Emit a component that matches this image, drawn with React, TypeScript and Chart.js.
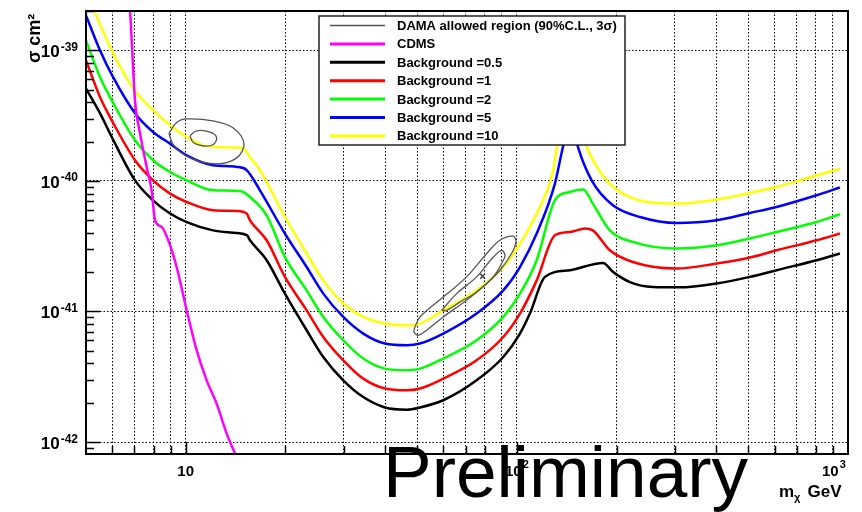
import React, { useEffect, useRef } from 'react';
import { Chart, registerables } from 'chart.js';

Chart.register(...registerables);

const FONT = '"Liberation Sans", Arial, Helvetica, sans-serif';

// ---- Data (WIMP mass in GeV, cross-section in cm^2) ----
const massBg05 = [5.0, 5.51, 5.98, 7.03, 7.97, 8.97, 10.07, 12.09, 14.28, 15.31, 15.64, 17.56, 19.94, 23.19, 26.03, 29.91, 34.38, 39.97, 46.48, 50.99, 59.95, 75.6, 90.99, 102.2, 109.5, 121.6, 144.7, 182.0, 195.1, 219.5, 257.6, 310.8, 401.2, 505.7, 608.6, 803.7, 945];
const sigmaBg05 = [5.1e-40, 3.3e-40, 2.17e-40, 1.01e-40, 7.1e-41, 5.62e-41, 4.84e-41, 4.18e-41, 3.99e-41, 3.83e-41, 3.51e-41, 2.47e-41, 1.37e-41, 7.18e-42, 4.48e-42, 2.97e-42, 2.21e-42, 1.84e-42, 1.77e-42, 1.84e-42, 2.09e-42, 2.97e-42, 4.48e-42, 6.77e-42, 9.64e-42, 1.84e-41, 2.07e-41, 2.35e-41, 2.01e-41, 1.68e-41, 1.54e-41, 1.53e-41, 1.64e-41, 1.84e-41, 2.07e-41, 2.47e-41, 2.78e-41];

const massBg1 = [5.0, 5.51, 5.98, 7.03, 7.97, 8.97, 10.07, 12.09, 14.26, 15.28, 15.64, 17.56, 19.94, 23.19, 26.03, 29.91, 34.38, 39.97, 46.48, 50.99, 59.95, 75.6, 90.99, 102.2, 114.8, 130.3, 144.7, 160.6, 169.6, 190.9, 224.0, 303.8, 401.2, 505.7, 608.6, 803.7, 945];
const sigmaBg1 = [8.38e-40, 4.39e-40, 2.91e-40, 1.44e-40, 1.01e-40, 7.99e-41, 6.89e-41, 5.96e-41, 5.88e-41, 5.62e-41, 4.99e-41, 3.51e-41, 1.84e-41, 1.02e-41, 6.38e-42, 4.23e-42, 3.06e-42, 2.57e-42, 2.49e-42, 2.57e-42, 3.06e-42, 4.23e-42, 6.38e-42, 9.64e-42, 1.73e-41, 3.83e-41, 4.06e-41, 4.31e-41, 4.18e-41, 2.94e-41, 2.39e-41, 2.13e-41, 2.33e-41, 2.59e-41, 2.94e-41, 3.51e-41, 3.95e-41];

const massBg2 = [5.0, 5.51, 5.98, 7.03, 7.97, 8.97, 10.07, 12.09, 14.59, 15.64, 17.56, 19.94, 23.19, 26.03, 29.91, 34.38, 39.97, 46.48, 50.99, 59.95, 75.6, 90.99, 102.2, 114.8, 130.3, 144.7, 158.7, 169.6, 190.9, 224.0, 303.8, 401.2, 505.7, 608.6, 803.7, 945];
const sigmaBg2 = [1.19e-39, 6.25e-40, 4.14e-40, 2.05e-40, 1.44e-40, 1.17e-40, 1.01e-40, 8.47e-41, 8.37e-41, 7.52e-41, 5.45e-41, 2.61e-41, 1.45e-41, 9.08e-42, 6.02e-42, 4.36e-42, 3.65e-42, 3.55e-42, 3.65e-42, 4.36e-42, 6.02e-42, 9.08e-42, 1.37e-41, 2.47e-41, 7.1e-41, 8.22e-41, 8.58e-41, 6.7e-41, 4.18e-41, 3.41e-41, 3.03e-41, 3.21e-41, 3.62e-41, 4.06e-41, 4.84e-41, 5.55e-41];

const massBg5 = [5.0, 5.51, 6.03, 7.03, 7.97, 8.97, 10.07, 12.09, 14.26, 15.28, 16.76, 19.94, 23.19, 26.03, 29.91, 34.38, 39.97, 46.48, 50.99, 59.95, 75.6, 90.99, 102.2, 114.8, 130.3, 137.8, 145.7, 152.9, 168.2, 195.1, 235.4, 303.8, 401.2, 505.7, 608.6, 803.7, 945];
const sigmaBg5 = [1.85e-39, 1.0e-39, 6.25e-40, 3.3e-40, 2.37e-40, 1.93e-40, 1.57e-40, 1.32e-40, 1.28e-40, 1.21e-40, 8.47e-41, 3.95e-41, 2.19e-41, 1.37e-41, 9.08e-42, 6.77e-42, 5.68e-42, 5.51e-42, 5.68e-42, 6.77e-42, 9.64e-42, 1.45e-41, 2.19e-41, 3.95e-41, 9.54e-41, 1.82e-40, 3.0e-40, 1.82e-40, 1.01e-40, 6.5e-41, 5.29e-41, 4.76e-41, 4.99e-41, 5.68e-41, 6.31e-41, 7.76e-41, 8.89e-41];

const massBg10 = [5.14, 5.98, 6.95, 7.98, 8.97, 10.07, 11.3, 12.96, 14.89, 15.64, 16.76, 19.94, 23.19, 26.03, 29.91, 34.38, 39.97, 46.48, 50.99, 59.95, 75.6, 90.99, 102.2, 114.8, 128.8, 132.1, 147.7, 162.8, 186.7, 219.5, 303.8, 401.2, 505.7, 608.6, 706.2, 803.7, 945];
const sigmaBg10 = [2.4e-39, 1.0e-39, 5.09e-40, 3.47e-40, 2.67e-40, 2.17e-40, 1.87e-40, 1.81e-40, 1.78e-40, 1.52e-40, 1.21e-40, 5.29e-41, 2.78e-41, 1.73e-41, 1.15e-41, 9.08e-42, 8.08e-42, 7.84e-42, 8.08e-42, 1.02e-41, 1.45e-41, 2.19e-41, 3.31e-41, 5.62e-41, 1.21e-40, 1.81e-40, 4.14e-40, 1.81e-40, 1.01e-40, 7.52e-41, 6.7e-41, 7.19e-41, 8.08e-41, 8.98e-41, 9.98e-41, 1.1e-40, 1.24e-40];

const massCdms = [6.77, 6.87, 7.03, 7.28, 7.62, 7.89, 8.08, 8.46, 8.86, 9.39, 10.07, 10.79, 11.57, 12.4, 13.3, 14.09, 14.59];
const sigmaCdms = [2.4e-39, 1.19e-39, 4.14e-40, 2.31e-40, 1.28e-40, 8.47e-41, 4.99e-41, 4.44e-41, 3.51e-41, 2.19e-41, 1.02e-41, 5.05e-42, 2.97e-42, 1.97e-42, 1.16e-42, 8.17e-43, 6.5e-43];

const massDamaLowOuter = [8.9, 9.39, 10.07, 12.09, 13.89, 15.0, 14.26, 12.4, 10.3, 9.2, 8.9];
const sigmaDamaLowOuter = [2.31e-40, 2.8e-40, 2.98e-40, 2.88e-40, 2.55e-40, 1.93e-40, 1.5e-40, 1.35e-40, 1.5e-40, 1.87e-40, 2.31e-40];
const massDamaLowInner = [10.3, 10.79, 11.84, 12.4, 12.12, 11.3, 10.54, 10.3];
const sigmaDamaLowInner = [2.22e-40, 2.42e-40, 2.36e-40, 2.15e-40, 1.9e-40, 1.85e-40, 1.97e-40, 2.22e-40];
const massDamaHighOuter = [49.25, 51.0, 59.95, 70.5, 81.1, 88.9, 97.5, 99.4, 96.4, 88.9, 81.1, 70.5, 59.95, 53.4, 50.4, 48.9, 49.25];
const sigmaDamaHighOuter = [7.61e-42, 9.08e-42, 1.29e-41, 1.84e-41, 2.78e-41, 3.51e-41, 3.77e-41, 3.41e-41, 2.78e-41, 2.07e-41, 1.64e-41, 1.22e-41, 9.08e-42, 7.18e-42, 6.57e-42, 6.97e-42, 7.61e-42];
const massDamaHighInner = [59.3, 65.8, 75.6, 84.9, 90.0, 92.1, 91.0, 84.9, 75.6, 67.3, 61.4, 59.3];
const sigmaDamaHighInner = [1.02e-41, 1.37e-41, 1.84e-41, 2.61e-41, 2.94e-41, 2.69e-41, 2.47e-41, 1.84e-41, 1.41e-41, 1.18e-41, 1.02e-41, 1.02e-41];
const massDamaBest = [78.8];
const sigmaDamaBest = [1.86e-41];

const legendLabels = ['DAMA allowed region (90%C.L., 3\u03c3)', 'CDMS', 'Background =0.5', 'Background =1', 'Background =2', 'Background =5', 'Background =10'];
const legendColors = ['#555555', '#ff00ff', '#000000', '#ff0000', '#00ff00', '#0000ff', '#ffff00'];

const xTickValues = [5, 6, 7, 8, 9, 10, 20, 30, 40, 50, 60, 70, 80, 90, 100, 200, 300, 400, 500, 600, 700, 800, 900, 1000];
const xLabelValues = [10, 100, 1000];
const xLabelExponents = ['', '2', '3'];
const yTickValues = [1e-42, 1e-41, 1e-40, 1e-39];
const yLabelExponents = ['-42', '-41', '-40', '-39'];

const yTitle = '\u03c3 cm\u00b2';
const watermark = 'Preliminary';

function pts(m: number[], s: number[]) {
  return m.map((x, i) => ({ x, y: s[i] }));
}

const overlayPlugin = {
  id: 'overlay',
  afterDatasetsDraw(chart: any) {
    const { ctx, chartArea: a, scales } = chart;
    const xs = scales.x;
    const ys = scales.y;
    ctx.save();
    ctx.strokeStyle = '#000';
    ctx.lineWidth = 1.5;
    for (let e = -43; e <= -39; e++) {
      for (let k = 1; k <= 9; k++) {
        const v = k * Math.pow(10, e);
        if (v < ys.min || v > ys.max) continue;
        const py = Math.round(ys.getPixelForValue(v)) + 0.5;
        const len = k === 1 ? 14 : 8;
        ctx.beginPath();
        ctx.moveTo(a.left, py);
        ctx.lineTo(a.left + len, py);
        ctx.stroke();
      }
    }
    for (let e = 0; e <= 3; e++) {
      for (let k = 1; k <= 9; k++) {
        const v = k * Math.pow(10, e);
        if (v <= xs.min || v >= xs.max) continue;
        const px = Math.round(xs.getPixelForValue(v)) + 0.5;
        const len = k === 1 ? 12 : 8;
        ctx.beginPath();
        ctx.moveTo(px, a.bottom);
        ctx.lineTo(px, a.bottom - len);
        ctx.stroke();
      }
    }
    ctx.lineWidth = 2;
    ctx.strokeRect(a.left, a.top, a.right - a.left, a.bottom - a.top);

    const L = { x: 319, y: 16, w: 306, h: 129, row0: 25.5, rowH: 18.4, l0: 330, l1: 385, tx: 397 };
    ctx.fillStyle = '#ffffff';
    ctx.fillRect(L.x, L.y, L.w, L.h);
    ctx.strokeStyle = '#222';
    ctx.lineWidth = 1.5;
    ctx.strokeRect(L.x, L.y, L.w, L.h);
    ctx.font = `bold 13px ${FONT}`;
    ctx.textBaseline = 'middle';
    ctx.textAlign = 'left';
    legendLabels.forEach((lab, i) => {
      const yy = L.row0 + i * L.rowH;
      ctx.strokeStyle = legendColors[i];
      ctx.lineWidth = i === 0 ? 1.5 : 3;
      ctx.beginPath();
      ctx.moveTo(L.l0, yy);
      ctx.lineTo(L.l1, yy);
      ctx.stroke();
      ctx.fillStyle = '#000';
      ctx.fillText(lab, L.tx, yy + 1);
    });
    ctx.restore();
  },
  afterDraw(chart: any) {
    const { ctx, chartArea: a, scales } = chart;
    const xs = scales.x;
    const ys = scales.y;
    ctx.save();
    ctx.fillStyle = '#000';
    ctx.textBaseline = 'alphabetic';

    // y tick labels: 10 with raised exponent, right edge 8px left of axis
    yTickValues.forEach((v, i) => {
      const py = ys.getPixelForValue(v);
      const right = a.left - 8;
      ctx.font = `bold 12px ${FONT}`;
      const ew = ctx.measureText(yLabelExponents[i]).width;
      ctx.textAlign = 'right';
      ctx.fillText(yLabelExponents[i], right, py + 0.5);
      ctx.font = `bold 17px ${FONT}`;
      ctx.fillText('10', right - ew - 1, py + 7);
    });

    // x tick labels
    xLabelValues.forEach((v, i) => {
      const px = xs.getPixelForValue(v);
      const exp = xLabelExponents[i];
      ctx.font = `bold 15px ${FONT}`;
      const bw = ctx.measureText('10').width;
      ctx.font = `bold 11px ${FONT}`;
      const ew = exp ? ctx.measureText(exp).width + 1 : 0;
      let left = px - (bw + ew) / 2;
      if (v === 1000) left = px - 26;
      ctx.textAlign = 'left';
      ctx.font = `bold 15px ${FONT}`;
      ctx.fillText('10', left, a.bottom + 22);
      if (exp) {
        ctx.font = `bold 11px ${FONT}`;
        ctx.fillText(exp, left + bw + 1, a.bottom + 14);
      }
    });

    // y title (rotated)
    ctx.save();
    ctx.translate(40, 63);
    ctx.rotate(-Math.PI / 2);
    ctx.font = `bold 18px ${FONT}`;
    ctx.textAlign = 'left';
    ctx.fillText(yTitle, 0, 0);
    ctx.restore();

    // x title: m_chi GeV
    ctx.textAlign = 'left';
    let xx = 779;
    const base = 497;
    ctx.font = `bold 17px ${FONT}`;
    ctx.fillText('m', xx, base);
    xx += ctx.measureText('m').width;
    ctx.font = `bold 11px ${FONT}`;
    ctx.fillText('\u03c7', xx, base + 4);
    xx += ctx.measureText('\u03c7').width + 7;
    ctx.font = `bold 17px ${FONT}`;
    ctx.fillText('GeV', xx, base);

    // watermark
    ctx.font = `73px ${FONT}`;
    ctx.fillText(watermark, 383, 497);
    ctx.restore();
  },
};

export default function App() {
  const canvasRef = useRef<HTMLCanvasElement | null>(null);

  useEffect(() => {
    const canvas = canvasRef.current;
    if (!canvas) return;
    const curve = (label: string, m: number[], s: number[], color: string) => ({
      label,
      data: pts(m, s),
      showLine: true,
      borderColor: color,
      backgroundColor: color,
      borderWidth: 2.5,
      pointRadius: 0,
      cubicInterpolationMode: 'monotone' as const,
      fill: false,
    });
    const contour = (label: string, m: number[], s: number[]) => ({
      label,
      data: pts(m, s),
      showLine: true,
      borderColor: '#555555',
      backgroundColor: '#555555',
      borderWidth: 1.3,
      pointRadius: 0,
      tension: 0.35,
      fill: false,
    });
    const chart = new Chart(canvas, {
      type: 'scatter',
      data: {
        datasets: [
          contour('DAMA low outer', massDamaLowOuter, sigmaDamaLowOuter),
          contour('DAMA low inner', massDamaLowInner, sigmaDamaLowInner),
          contour('DAMA high outer', massDamaHighOuter, sigmaDamaHighOuter),
          contour('DAMA high inner', massDamaHighInner, sigmaDamaHighInner),
          {
            label: 'DAMA best fit',
            data: pts(massDamaBest, sigmaDamaBest),
            showLine: false,
            pointStyle: 'crossRot',
            pointRadius: 3.5,
            borderColor: '#333',
            borderWidth: 1.3,
          },
          curve(legendLabels[1], massCdms, sigmaCdms, legendColors[1]),
          curve(legendLabels[2], massBg05, sigmaBg05, legendColors[2]),
          curve(legendLabels[3], massBg1, sigmaBg1, legendColors[3]),
          curve(legendLabels[4], massBg2, sigmaBg2, legendColors[4]),
          curve(legendLabels[5], massBg5, sigmaBg5, legendColors[5]),
          curve(legendLabels[6], massBg10, sigmaBg10, legendColors[6]),
        ] as any,
      },
      options: {
        responsive: false,
        animation: false,
        events: [],
        layout: { padding: { left: 0, top: 11, right: 14, bottom: 0 } },
        plugins: { legend: { display: false }, tooltip: { enabled: false } },
        scales: {
          x: {
            type: 'logarithmic',
            position: 'bottom',
            min: 5,
            max: 1000,
            afterBuildTicks: (s: any) => {
              s.ticks = xTickValues.map((v) => ({ value: v }));
            },
            afterFit: (s: any) => {
              s.height = 58;
            },
            grid: {
              color: (c: any) => (c.tick && (c.tick.value === 5 || c.tick.value === 1000) ? 'rgba(0,0,0,0)' : '#000'),
              lineWidth: 1,
              drawTicks: false,
            },
            border: { display: false, dash: [1.5, 2] },
            ticks: { display: false, autoSkip: false },
          },
          y: {
            type: 'logarithmic',
            position: 'left',
            min: 8.1e-43,
            max: 2.0e-39,
            afterBuildTicks: (s: any) => {
              s.ticks = yTickValues.map((v) => ({ value: v }));
            },
            afterFit: (s: any) => {
              s.width = 86;
            },
            grid: { color: '#000', lineWidth: 1, drawTicks: false },
            border: { display: false, dash: [1.5, 2] },
            ticks: { display: false, autoSkip: false },
          },
        },
      } as any,
      plugins: [overlayPlugin],
    });
    return () => chart.destroy();
  }, []);

  return (
    <div style={{ position: 'fixed', left: 0, top: 0, width: 862, height: 512, background: '#fff' }}>
      <canvas ref={canvasRef} width={862} height={512} style={{ display: 'block' }} />
    </div>
  );
}
